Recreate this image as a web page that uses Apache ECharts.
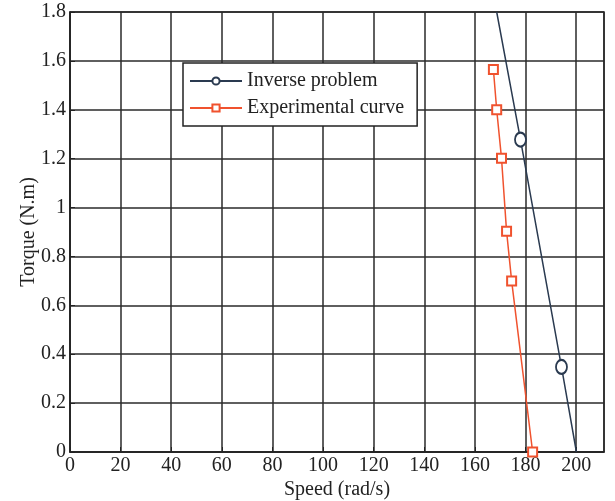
<!DOCTYPE html>
<html>
<head>
<meta charset="utf-8">
<script src="https://cdn.jsdelivr.net/npm/echarts@6/dist/echarts.min.js"></script>
<style>html,body{margin:0;padding:0;background:#fff}#c{width:615px;height:501px}</style>
</head>
<body>
<div id="c"></div>
<script>
// Data
const inverseSpeed  = [168.6, 178.0, 194.2, 200.1];
const inverseTorque = [1.8,   1.278, 0.348, 0.0];
const inverseMarked = [false, true,  true,  false];

const expSpeed  = [167.3, 168.6, 170.5, 172.5, 174.5, 182.8];
const expTorque = [1.565, 1.40,  1.202, 0.903, 0.70,  0.0];

const xTicks = [0, 20, 40, 60, 80, 100, 120, 140, 160, 180, 200];
const yTicks = [0, 0.2, 0.4, 0.6, 0.8, 1, 1.2, 1.4, 1.6, 1.8];

const FONT = 'Liberation Serif';
const invColor = '#2a3a50';
const expColor = '#f0522e';

const invData = inverseSpeed.map((s, i) => ({
  value: [s, inverseTorque[i]],
  symbol: inverseMarked[i] ? 'emptyCircle' : 'none'
}));
const expData = expSpeed.map((s, i) => [s, expTorque[i]]);

const chart = echarts.init(document.getElementById('c'), null, {renderer: 'canvas'});
chart.setOption({
  animation: false,
  backgroundColor: '#fff',
  grid: {left: 70, right: 11, top: 12, bottom: 49, show: true, borderColor: '#222', borderWidth: 1.5,
    containLabel: false, outerBoundsMode: 'none'},
  legend: {
    orient: 'vertical',
    left: 183, top: 63,
    padding: [8, 13, 8, 6],
    itemGap: 7,
    itemWidth: 52, itemHeight: 9,
    borderColor: '#222', borderWidth: 1.5,
    backgroundColor: '#fff',
    textStyle: {fontFamily: FONT, fontSize: 20, color: '#222', padding: [0, 0, 0, 0]},
    data: ['Inverse problem', 'Experimental curve']
  },
  xAxis: {
    type: 'value', min: 0, max: 211, interval: 20,
    name: 'Speed (rad/s)', nameLocation: 'middle', nameGap: 28, nameMoveOverlap: false,
    nameTextStyle: {fontFamily: FONT, fontSize: 20, color: '#222'},
    axisLine: {show: true, onZero: false, lineStyle: {color: '#222', width: 1.5}},
    axisTick: {show: true, inside: true, length: 5, lineStyle: {color: '#222'}},
    axisLabel: {fontFamily: FONT, fontSize: 20, color: '#222', margin: 4, showMaxLabel: false,
      formatter: v => xTicks.includes(v) ? String(v) : ''},
    splitLine: {show: true, lineStyle: {color: '#2a2a2a', width: 1.5}}
  },
  yAxis: {
    type: 'value', min: 0, max: 1.8, interval: 0.2,
    name: 'Torque (N.m)', nameLocation: 'middle', nameGap: 31, nameRotate: 90, nameMoveOverlap: false,
    nameTextStyle: {fontFamily: FONT, fontSize: 20, color: '#222'},
    axisLine: {show: true, onZero: false, lineStyle: {color: '#222', width: 1.5}},
    axisTick: {show: true, inside: true, length: 5, lineStyle: {color: '#222'}},
    axisLabel: {fontFamily: FONT, fontSize: 20, color: '#222', margin: 4,
      formatter: v => { const r = Math.round(v * 10) / 10; return yTicks.includes(r) ? String(r) : ''; }},
    splitLine: {show: true, lineStyle: {color: '#2a2a2a', width: 1.5}}
  },
  series: [
    {
      name: 'Inverse problem', type: 'line', data: invData,
      symbol: 'emptyCircle', symbolSize: [11, 14], showAllSymbol: true,
      lineStyle: {color: invColor, width: 1.5},
      itemStyle: {color: invColor, borderColor: invColor, borderWidth: 1.5},
      clip: true, z: 3
    },
    {
      name: 'Experimental curve', type: 'line', data: expData,
      symbol: 'emptyRect', symbolSize: 9, showAllSymbol: true,
      lineStyle: {color: expColor, width: 1.5},
      itemStyle: {color: expColor, borderColor: expColor, borderWidth: 1.5},
      clip: false, z: 4
    }
  ]
});
</script>
</body>
</html>
